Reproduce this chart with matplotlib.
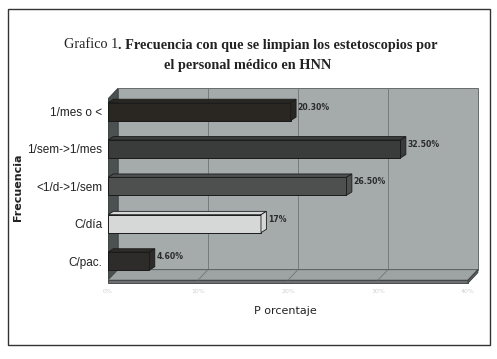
import matplotlib
matplotlib.use("Agg")
import matplotlib.pyplot as plt
from matplotlib.patches import Polygon, Rectangle
import numpy as np

# data (bottom to top, as drawn)
categories = ["C/pac.", "C/día", "<1/d->1/sem", "1/sem->1/mes", "1/mes o <"]
values = [4.6, 17.0, 26.5, 32.5, 20.3]
value_labels = ["4.60%", "17%", "26.50%", "32.50%", "20.30%"]
bar_colors = ["#2e2c2a", "#d6d8d8", "#4e5050", "#3a3c3c", "#2a2622"]
xticks = [0, 10, 20, 30, 40]
xtick_labels = ["0%", "10%", "20%", "30%", "40%"]

# 3d look
wdx, wdy = 1.1, 0.28       # wall depth (data units)
bdx, bdy = 0.6, 0.09       # bar depth
bh = 0.48
xmax = 40
floor_y = -0.51
slab = 0.08
wall_top = 4.62

fig = plt.figure(figsize=(4.97, 3.59), dpi=100)
fig.patch.set_facecolor("white")

# outer frame
fig.add_artist(Rectangle((8/497, 1-345/359), 482/497, 336/359, transform=fig.transFigure,
                         fill=False, edgecolor="#333333", lw=1.0))

# title
fig.text(118/497, 1-45/359, "Grafico 1", ha="right", va="center", family="Liberation Serif",
         fontsize=10.3, color="#222222")
fig.text(118/497, 1-45/359, ". Frecuencia con que se limpian los estetoscopios por", ha="left",
         va="center", family="Liberation Serif", fontsize=10.3, fontweight="bold", color="#222222")
fig.text(248/497, 1-65/359, "el personal médico en HNN", ha="center", va="center",
         family="Liberation Serif", fontsize=10.3, fontweight="bold", color="#222222")

ax = fig.add_axes([108/497, 1-285/359, 375/497, 200/359])
ax.set_xlim(0, 41.67)
ax.set_ylim(-0.64, 4.71)
for s in ax.spines.values():
    s.set_visible(False)

# back wall
ax.add_patch(Rectangle((wdx, floor_y + wdy), xmax, wall_top - floor_y - wdy,
                       facecolor="#a5abab", edgecolor="#555a5a", lw=0.6, zorder=0))
# left wall
ax.add_patch(Polygon([(0, floor_y), (wdx, floor_y + wdy), (wdx, wall_top), (0, wall_top - wdy)],
                     facecolor="#4b5050", edgecolor="#333636", lw=0.6, zorder=1))
# floor top + front slab
ax.add_patch(Polygon([(0, floor_y), (xmax, floor_y), (xmax + wdx, floor_y + wdy), (wdx, floor_y + wdy)],
                     facecolor="#9ea3a3", edgecolor="#4a4e4e", lw=0.6, zorder=1))
ax.add_patch(Rectangle((0, floor_y - slab), xmax, slab, facecolor="#6c7070",
                       edgecolor="#3a3d3d", lw=0.6, zorder=1))
ax.add_patch(Polygon([(xmax, floor_y - slab), (xmax + wdx, floor_y + wdy - slab),
                      (xmax + wdx, floor_y + wdy), (xmax, floor_y)],
                     facecolor="#5a5e5e", edgecolor="#3a3d3d", lw=0.6, zorder=1))

# gridlines on wall and floor
for t in xticks[1:-1]:
    ax.plot([t + wdx, t + wdx], [floor_y + wdy, wall_top], color="#6f7474", lw=0.6, zorder=0.5)
    ax.plot([t, t + wdx], [floor_y, floor_y + wdy], color="#6f7474", lw=0.6, zorder=1.5)

# bars
ypos = np.arange(len(categories))
ax.barh(ypos, values, height=bh, color=bar_colors, edgecolor="#1a1a1a", lw=0.7, zorder=3)
for y, v, c, lab in zip(ypos, values, bar_colors, value_labels):
    top = y + bh / 2
    bot = y - bh / 2
    ax.add_patch(Polygon([(0, top), (v, top), (v + bdx, top + bdy), (bdx, top + bdy)],
                         facecolor=c, edgecolor="#1a1a1a", lw=0.6, zorder=3))
    ax.add_patch(Polygon([(v, bot), (v, top), (v + bdx, top + bdy), (v + bdx, bot + bdy)],
                         facecolor=c, edgecolor="#1a1a1a", lw=0.6, zorder=3))
    ax.text(v + bdx + 0.15, y + 0.12, lab, ha="left", va="center", fontsize=5.6,
            fontweight="bold", color="#2a2a2a", zorder=4)

ax.set_yticks(ypos)
ax.set_yticklabels(categories, family="Liberation Sans", fontsize=8.5, color="#222222")
ax.set_xticks(xticks)
ax.set_xticklabels(xtick_labels, fontsize=4.5, color="#d0d0d0")
ax.tick_params(axis="both", length=0)
ax.tick_params(axis="y", pad=4)
ax.tick_params(axis="x", pad=3)

fig.text(18/497, 1-187/359, "Frecuencia", rotation=90, ha="center", va="center",
         fontsize=8, fontweight="bold", color="#222222")
fig.text(285/497, 1-311/359, "P orcentaje", ha="center", va="center",
         fontsize=8, color="#222222")

fig.savefig("out.png", dpi=100)
